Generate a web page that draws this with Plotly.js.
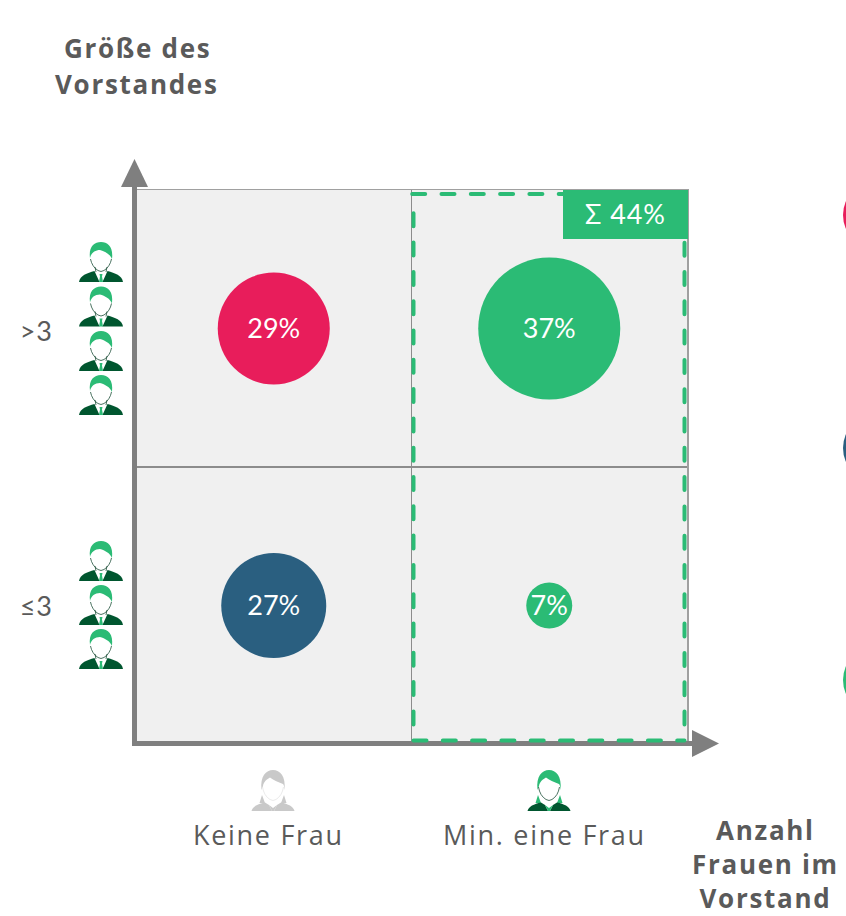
<!DOCTYPE html>
<html><head><meta charset="utf-8">
<script src="https://cdn.plot.ly/plotly-3.0.1.min.js"></script>
<style>html,body{margin:0;padding:0;background:#fff;overflow:hidden}
.annotation-text{letter-spacing:1.7px}
.annotation[data-index="5"] .annotation-text,
.annotation[data-index="6"] .annotation-text,
.annotation[data-index="7"] .annotation-text{letter-spacing:.9px}</style>
</head><body><div id="chart" style="width:846px;height:916px"></div>
<script>
// ---- data ----
const womenCategories = ["Keine Frau", "Min. eine Frau"];
const boardCategories = ["≤3", ">3"];
const bubbleColumn = [0, 1, 0, 1];
const bubbleRow = [1, 1, 0, 0];
const shares = [29, 37, 27, 7];
const sumLabel = "Σ 44%";
const yTitleLines = ["Größe des", "Vorstandes"];
const xTitleLines = ["Anzahl", "Frauen im", "Vorstand"];

// ---- style ----
const bubbleDiameters = [112, 142, 105, 46];
const bubbleColors = ["#e81d5b", "#2bbb75", "#2a5f80", "#2bbb75"];
const W = 846, H = 916, L = 136, R = 687, T = 190, B = 744;
const GREEN = "#2bbb75", DARK = "#00562f", AXIS = "#7f7f7f", TXT = "#5a5a5a";
const FONT = "'Open Sans', 'Noto Sans', sans-serif";
const NUMFONT = "Lato, 'Open Sans', sans-serif";

const px = x => (x - L) / (R - L);
const py = y => 1 - (y - T) / (B - T);
const shape = (o) => Object.assign({xref: "paper", yref: "paper", layer: "above"}, o);
function mapPath(d, ox, oy) {
  return d.replace(/(-?[\d.]+),(-?[\d.]+)/g, (m, a, b) =>
    (px(+a + ox)).toFixed(5) + "," + (py(+b + oy)).toFixed(5));
}
const fill = (d, ox, oy, c) => shape({type: "path", path: mapPath(d, ox, oy), fillcolor: c, line: {width: 0}});
const stroke = (d, ox, oy, c, w) => shape({type: "path", path: mapPath(d, ox, oy), line: {color: c, width: w}});

function man(ox, oy) {
  return [
    fill("M-11,16 C-12.5,5 -7,0 0,0 C7,0 12.5,5 11,17 C9,12 4,9.5 -1,8 C-6,8 -10,11 -11,16 Z", ox, oy, GREEN),
    stroke("M-10.5,17 C-9.5,22 -7,26 -3,28.5 L0,29.5 L3,28.5 C7,26 9.5,22 10.5,17", ox, oy, "#1d4f38", 0.8),
    stroke("M-6,25 L-5,30 M6,25 L5,30", ox, oy, "#1d4f38", 0.8),
    fill("M-22,40 C-21,33.5 -14,31 -6.5,29 L-1.5,40 Z", ox, oy, DARK),
    fill("M22,40 C21,33.5 14,31 6.5,29 L1.5,40 Z", ox, oy, DARK),
    fill("M-1.5,32 L1.5,32 L1,34.5 L2,40 L-2,40 L-1,34.5 Z", ox, oy, GREEN)
  ];
}
function woman(ox, oy, hair, body, lineC) {
  return [
    fill("M-11.5,20 C-13,6 -7,0 0,0 C7,0 13,6 11.5,20 C11,16 11,15 10,14 C5,12 0,10 -3,7.5 C-6,9 -9.5,12 -10,16 C-10.5,17 -11,19 -11.5,20 Z", ox, oy, hair),
    stroke("M-10.5,17 C-9.5,23 -7,27 -3,29.5 L0,30.5 L3,29.5 C7,27 9.5,23 10.5,17", ox, oy, lineC, 0.8),
    fill("M-11,25 L-8,33 L-13.5,33 Z", ox, oy, hair),
    fill("M11,25 L8,33 L13.5,33 Z", ox, oy, hair),
    fill("M-21.5,41 C-20.5,36.5 -15,34 -8,32.5 L-4,35 L-1,41 Z", ox, oy, body),
    fill("M21.5,41 C20.5,36.5 15,34 8,32.5 L4,35 L1,41 Z", ox, oy, body),
    fill("M-4,35 L0,38 L4,35 L1,41 L-1,41 Z", ox, oy, hair)
  ];
}

const shapes = [];
// axes with arrow heads
shapes.push(shape({type: "rect", x0: px(132), x1: px(137), y0: py(746), y1: py(185), fillcolor: AXIS, line: {width: 0}}));
shapes.push(shape({type: "rect", x0: px(132), x1: px(694), y0: py(741), y1: py(746), fillcolor: AXIS, line: {width: 0}}));
shapes.push(fill("M134.5,159 L148,187 L121,187 Z", 0, 0, AXIS));
shapes.push(fill("M719,743.5 L692,757 L692,730 Z", 0, 0, AXIS));
// dashed highlight
["M413.5,740.5 L684.5,740.5", "M684.5,242.7 L684.5,740.5", "M412.2,194 L684.5,194", "M413.5,213.3 L413.5,740.5"].forEach(d => {
  shapes.push(shape({type: "path", path: mapPath(d, 0, 0), line: {color: GREEN, width: 4, dash: "13px,16.3px"}}));
});
// sum badge
shapes.push(shape({type: "rect", x0: px(563), x1: px(688), y0: py(239), y1: py(190), fillcolor: GREEN, line: {width: 0}}));
// cropped legend discs at the right edge
[["#e81d5b", 215], ["#2a5f80", 448], [GREEN, 680]].forEach(([c, y]) => {
  shapes.push(shape({type: "circle", x0: px(843), x1: px(911), y0: py(y + 34), y1: py(y - 34), fillcolor: c, line: {width: 0}}));
});
// icons
[242, 286.5, 331, 375, 541, 585, 629].forEach(y => shapes.push(...man(101, y)));
shapes.push(...woman(273, 770, "#c9c9c9", "#c9c9c9", "#e4e4e4"));
shapes.push(...woman(549, 770, GREEN, DARK, "#1d4f38"));

const ann = (text, x, y, size, color, family) => ({
  text, x: px(x), y: py(y), xref: "paper", yref: "paper", showarrow: false,
  font: {family: family || FONT, size, color}, xanchor: "center", yanchor: "middle", align: "center"
});

const annotations = [
  ann("<b>" + yTitleLines[0] + "</b>", 137, 48, 26, TXT),
  ann("<b>" + yTitleLines[1] + "</b>", 137, 84, 26, TXT),
  ann(xTitleLines.map(s => "<b>" + s + "</b>").join("<br>"), 765, 864, 26, TXT),
  ann(womenCategories[0], 268.5, 835, 27, TXT),
  ann(womenCategories[1], 544.5, 835, 27, TXT),
  ann(boardCategories[1], 36, 330, 27, TXT, NUMFONT),
  ann(boardCategories[0], 36, 605, 27, TXT, NUMFONT),
  ann(sumLabel, 625.5, 214, 27, "#fff", NUMFONT)
];

const trace = {
  type: "scatter", mode: "markers+text",
  x: bubbleColumn.map(c => c + 0.5),
  y: bubbleRow.map(r => r + 0.5),
  text: shares.map(v => v + "%"),
  textposition: "middle center",
  textfont: {family: NUMFONT, size: 27, color: "#fff"},
  marker: {size: bubbleDiameters, color: bubbleColors, line: {width: 0}, opacity: 1},
  hoverinfo: "text", cliponaxis: false
};

const layout = {
  width: W, height: H, showlegend: false,
  margin: {l: L, r: W - R, t: T, b: H - B, pad: 0},
  paper_bgcolor: "#fff", plot_bgcolor: "#f0f0f0",
  xaxis: {range: [0, 2], tickvals: [1], showticklabels: false, ticks: "", showgrid: true,
          gridcolor: "#8c8c8c", gridwidth: 1.8, zeroline: false, showline: true, mirror: true,
          linecolor: "#a0a0a0", linewidth: 1.5, fixedrange: true},
  yaxis: {range: [0, 2], tickvals: [1], showticklabels: false, ticks: "", showgrid: true,
          gridcolor: "#8c8c8c", gridwidth: 1.8, zeroline: false, showline: true, mirror: true,
          linecolor: "#a0a0a0", linewidth: 1.5, fixedrange: true},
  shapes, annotations
};

Plotly.newPlot("chart", [trace], layout, {staticPlot: true, displayModeBar: false}).then(() => {
  document.querySelectorAll(".shapelayer path").forEach(p => {
    if ((p.style.strokeDasharray || "").indexOf("13") >= 0) p.style.strokeLinecap = "round";
  });
  document.querySelectorAll(".textpoint text").forEach(t => {
    t.setAttribute("dy", "3");
  });
});
</script></body></html>
